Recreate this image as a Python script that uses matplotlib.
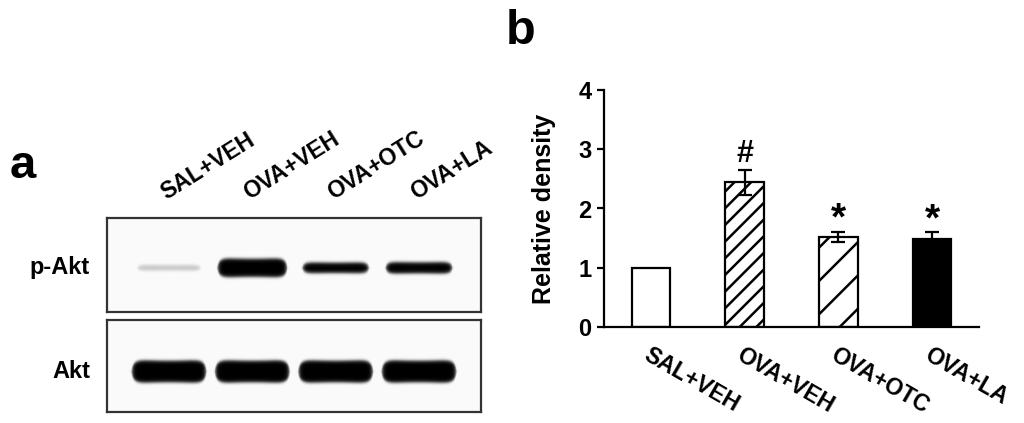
import numpy as np
import matplotlib as mpl
mpl.use("Agg")
import matplotlib.pyplot as plt

plt.rcParams["font.family"] = ["Liberation Sans", "DejaVu Sans"]
plt.rcParams["font.weight"] = "bold"
plt.rcParams["hatch.linewidth"] = 1.8

groups = ["SAL+VEH", "OVA+VEH", "OVA+OTC", "OVA+LA"]
density = [1.0, 2.44, 1.52, 1.48]
density_err = [0.0, 0.21, 0.09, 0.12]
marks = ["", "#", "*", "*"]
hatches = ["", "//", "/", ""]
faces = ["white", "white", "white", "black"]

blot_rows = ["p-Akt", "Akt"]
p_akt_signal = [0.15, 1.0, 0.55, 0.6]
akt_signal = [1.0, 1.0, 1.0, 1.0]

W, H = 1024, 423
fig = plt.figure(figsize=(W / 100, H / 100), dpi=100)


def px_axes(x0, y0, x1, y1):
    return fig.add_axes([x0 / W, 1 - y1 / H, (x1 - x0) / W, (y1 - y0) / H])


def band_image(signal, xlim, hw0, yc, full, nx=600, ny=160):
    """Synthetic blot lane image from band signal strengths."""
    xs = np.linspace(xlim[0], xlim[1], nx)
    ys = np.linspace(0, 1, ny)
    X, Y = np.meshgrid(xs, ys)
    img = np.full_like(X, 0.04)
    sig = lambda z: 1 / (1 + np.exp(-z))
    for i, s in enumerate(signal):
        hw = hw0 + 0.04 * s
        thick = 0.03 + (full - 0.03) * s ** 1.5
        r = np.abs(X - i) / hw
        t = thick * (1 + 0.12 * np.clip(r, 0, 1) ** 2) * np.sqrt(np.clip(1 - r ** 8, 0.0, 1))
        horiz = sig((1 - r) * hw / 0.015)
        vert = sig((t - np.abs(Y - yc)) / 0.012)
        img = np.maximum(img, np.clip(s / 0.45, 0, 1) * vert * horiz)
    return img


xlim_blot = (-0.74, 3.74)
ax_p = px_axes(107, 218, 481, 312)
ax_t = px_axes(107, 320, 481, 412)
rows = [(ax_p, p_akt_signal, blot_rows[0], 0.38, 0.47, 0.1),
        (ax_t, akt_signal, blot_rows[1], 0.41, 0.435, 0.12)]
for ax, sig_vals, name, hw0, yc, full in rows:
    ax.imshow(band_image(sig_vals, xlim_blot, hw0, yc, full), cmap="Greys", vmin=0, vmax=1,
              extent=(xlim_blot[0], xlim_blot[1], 0, 1), aspect="auto",
              origin="lower", interpolation="bilinear")
    ax.set_xlim(*xlim_blot)
    ax.set_ylim(0, 1)
    ax.set_xticks([])
    ax.set_yticks([])
    for sp in ax.spines.values():
        sp.set_linewidth(1.6)
        sp.set_color("#333333")
    ax.text(-0.045, yc, name, transform=ax.transAxes, ha="right", va="center",
            fontsize=17, fontweight="bold")

for i, g in enumerate(groups):
    ax_p.text(i - 0.0, 1.15, g, rotation=32, rotation_mode="anchor",
              ha="left", va="bottom", fontsize=16.5, fontweight="bold",
              transform=ax_p.get_xaxis_transform(), clip_on=False)

fig.text(10 / W, 1 - 178 / H, "a", fontsize=34, fontweight="bold", ha="left", va="baseline")
fig.text(506 / W, 1 - 44 / H, "b", fontsize=35, fontweight="bold", ha="left", va="baseline")

# bar chart
ax = px_axes(604, 90, 979, 327)
x = np.arange(len(groups))
ax.bar(x, density, width=0.41, color=faces, edgecolor="black", linewidth=1.6,
       hatch=hatches, zorder=2)
ax.errorbar(x[1:], density[1:], yerr=density_err[1:], fmt="none", ecolor="black",
            elinewidth=1.6, capsize=5, capthick=1.6, zorder=3)
for xi, v, e, m in zip(x, density, density_err, marks):
    if m:
        ax.text(xi, v + e + (0.2 if m == "*" else 0.27), m, ha="center", va="center",
                fontsize=28 if m == "*" else 22, fontweight="bold")

ax.set_xlim(-0.5, 3.5)
ax.set_ylim(0, 4)
ax.set_yticks([0, 1, 2, 3, 4])
ax.set_xticks(x)
ax.set_xticklabels(groups, rotation=-30, ha="left", rotation_mode="anchor",
                   fontsize=16.5, fontweight="bold")
ax.tick_params(axis="x", length=0, pad=12)
ax.tick_params(axis="y", length=5, width=1.6, labelsize=17, pad=4)
for lab in ax.get_yticklabels():
    lab.set_fontweight("bold")
ax.set_ylabel("Relative density", fontsize=18, fontweight="bold", labelpad=16)
for s in ["top", "right"]:
    ax.spines[s].set_visible(False)
for s in ["left", "bottom"]:
    ax.spines[s].set_linewidth(1.6)

fig.savefig("out.png", dpi=100)
